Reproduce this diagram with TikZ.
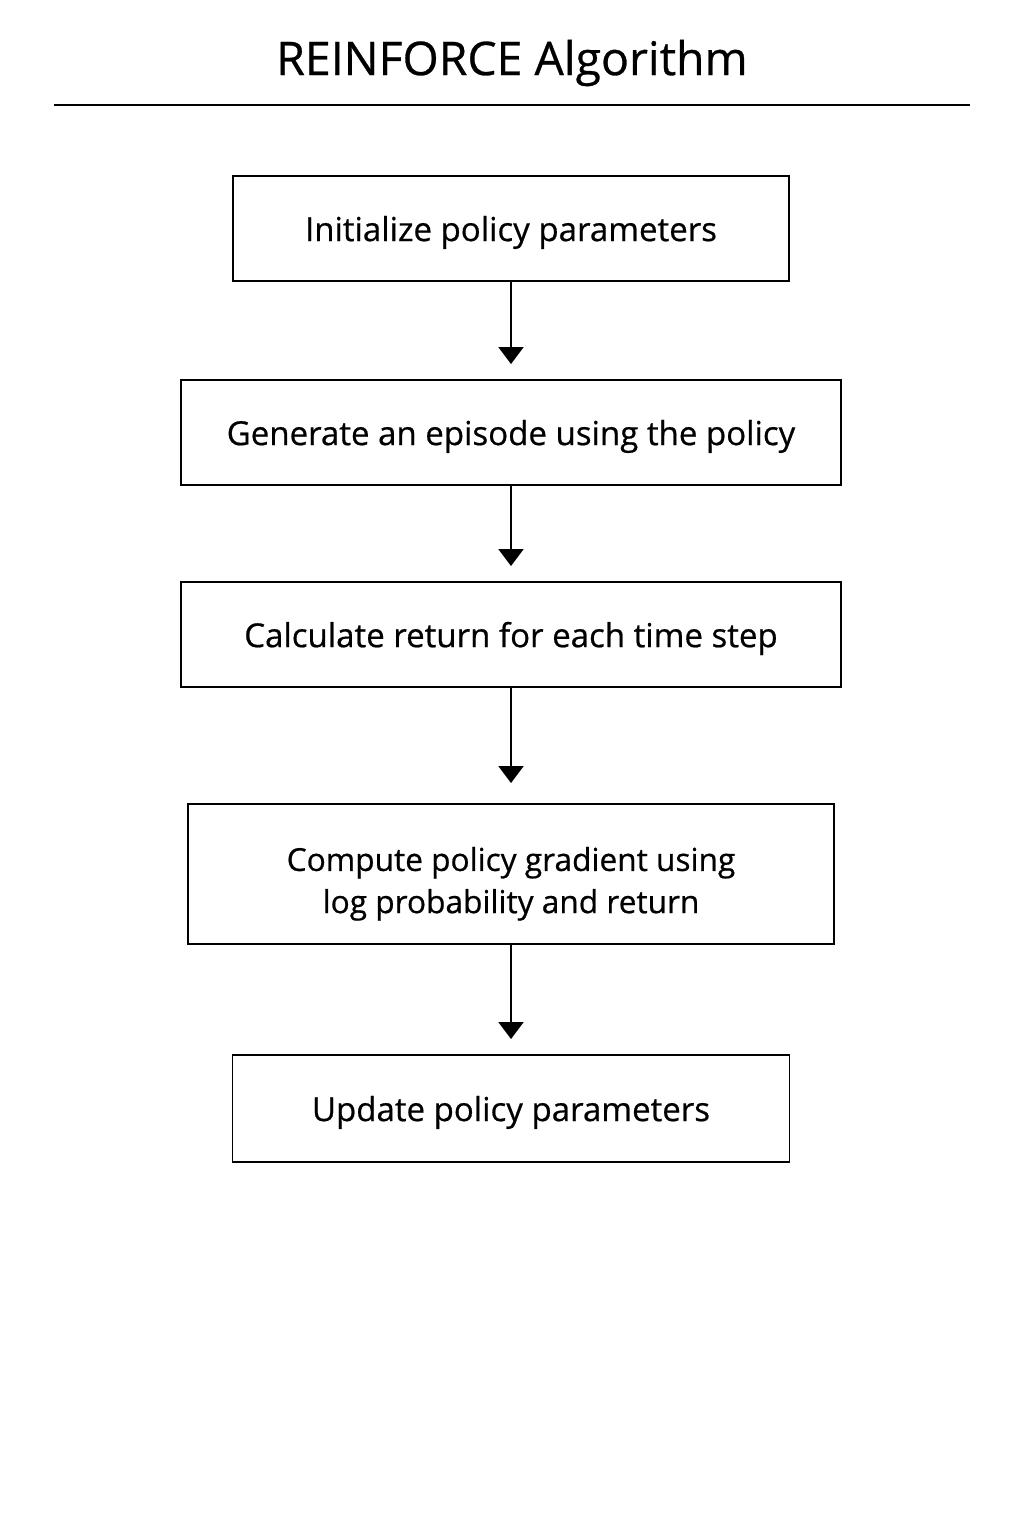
\documentclass[tikz,border=0pt]{standalone}
\usepackage{fontspec}
\setmainfont{Open Sans}
\newfontfamily\heavyfont{Open Sans}[FakeBold=0.6]
\usetikzlibrary{arrows.meta}

\begin{document}
\begin{tikzpicture}[x=0.2mm, y=-0.2mm, line width=1.1pt,
  stepbox/.style={draw, inner sep=0pt, align=center, text depth=0pt,
    font=\heavyfont\fontsize{18.8}{24}\selectfont},
  flow/.style={-{Triangle[width=5mm, length=3.4mm]}, shorten >=3mm}]
  % page
  \useasboundingbox[fill=white] (0,0) rectangle (1024,1536);

  % Title
  \node[font=\heavyfont\fontsize{26.4}{32}\selectfont] (title) at (512,63) {REINFORCE Algorithm};
  \draw (54,105) -- (970,105);

  % Steps
  \node[stepbox, minimum width=111.2mm, minimum height=21mm] (init) at (511,228.5)
    {Initialize policy parameters};
  \node[stepbox, minimum width=132mm, minimum height=21mm] (episode) at (511,432.5)
    {Generate an episode using the policy};
  \node[stepbox, minimum width=132mm, minimum height=21mm] (return) at (511,634.5)
    {Calculate return for each time step};
  \node[stepbox, minimum width=129.2mm, minimum height=28mm, text height=44.5pt,
    font=\heavyfont\fontsize{18}{24}\selectfont] (grad) at (511,874)
    {Compute policy gradient using\\log probability and return};
  \node[stepbox, minimum width=111.4mm, minimum height=21.4mm] (update) at (511,1108.5)
    {Update policy parameters};

  % arrows
  \draw[flow] (init) -- (episode);
  \draw[flow] (episode) -- (return);
  \draw[flow, shorten >=4mm] (return) -- (grad);
  \draw[flow] (grad) -- (update);

\end{tikzpicture}
\end{document}
